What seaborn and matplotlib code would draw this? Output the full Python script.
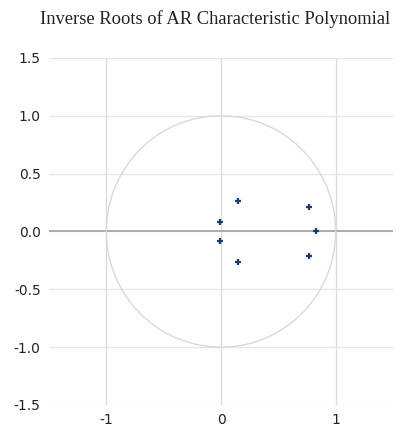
import matplotlib
matplotlib.use("Agg")
import matplotlib.pyplot as plt
import seaborn as sns
import numpy as np
import pandas as pd

# Inverse roots (real, imaginary)
root_real = [0.15, 0.15, 0.77, 0.77, -0.01, -0.01, 0.83]
root_imag = [0.26, -0.26, 0.21, -0.21, 0.08, -0.08, 0.0]
x_ticks = [-1, 0, 1]
y_ticks = [-1.5, -1.0, -0.5, 0.0, 0.5, 1.0, 1.5]
title = "Inverse Roots of AR Characteristic Polynomial"

df = pd.DataFrame({"re": root_real, "im": root_imag})

sns.set_style("white")
fig = plt.figure(figsize=(4.03, 4.29), dpi=100)
ax = fig.add_axes([0.1216, 0.056, 0.8536, 0.809])

for v in x_ticks:
    ax.axvline(v, color="#dcdcdc", lw=1.0, zorder=0)
for v in y_ticks:
    ax.axhline(v, color="#e6e6e6", lw=1.0, zorder=0)
ax.axhline(0, color="#a0a0a0", lw=1.2, zorder=1)

theta = np.linspace(0, 2 * np.pi, 400)
ax.plot(np.cos(theta), np.sin(theta), color="#d9d9d9", lw=1.0, zorder=1)

sns.scatterplot(data=df, x="re", y="im", marker="+", color="#1c3a78",
                s=18, linewidth=1.6, ax=ax, zorder=3)

ax.set_xlim(-1.5, 1.5)
ax.set_ylim(-1.5, 1.5)
ax.set_xticks(x_ticks)
ax.set_xticklabels([str(v) for v in x_ticks])
ax.set_yticks(y_ticks)
ax.set_yticklabels([f"{v:.1f}" for v in y_ticks])
ax.tick_params(length=0, labelsize=10, colors="#222222", pad=6)
for lab in ax.get_xticklabels() + ax.get_yticklabels():
    lab.set_family("DejaVu Sans")
ax.set_xlabel("")
ax.set_ylabel("")
for s in ax.spines.values():
    s.set_visible(False)

fig.text(0.535, 0.955, title, ha="center", va="center",
         family="Liberation Serif", fontsize=13.3, color="#222222")

fig.savefig("out.png", dpi=100)
